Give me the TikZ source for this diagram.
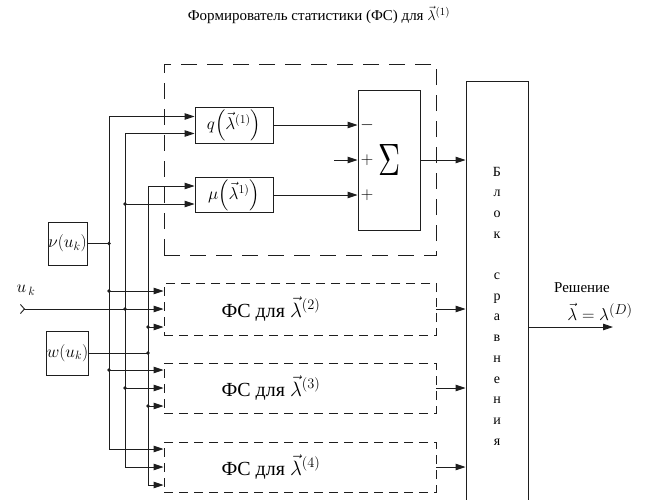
\documentclass[tikz,border=0pt]{standalone}
\usepackage{fontspec}
\setmainfont{Liberation Serif}
\usepackage{amsmath}
\usepackage{graphicx}
\usetikzlibrary{arrows.meta,positioning,calc}
\definecolor{ink}{RGB}{30,30,30}
\tikzset{
  blk/.style={draw=ink,line width=0.9pt,inner sep=1pt,font=\fontsize{17}{17}\selectfont},
  fsframe/.style={draw=ink,line width=0.9pt,dash pattern=on 9pt off 6pt,minimum width=272pt},
  fslabel/.style={font=\fontsize{20}{20}\selectfont},
  bigframe/.style={draw=ink,line width=0.9pt,dash pattern=on 16pt off 10pt},
  flow/.style={-{Triangle[length=10pt,width=6.5pt]},line width=0.9pt,draw=ink},
  wire/.style={line width=0.9pt,draw=ink},
  sign/.style={font=\fontsize{16}{16}\selectfont,inner sep=0pt}
}
\begin{document}
\begin{tikzpicture}[x=1pt,y=-1pt]
\useasboundingbox (0,0) rectangle (645,499);
\node[font=\fontsize{15}{17}\selectfont] (title) at (319,15) {Формирователь статистики (ФС) для $\vec{\lambda}{}^{(1)}$};
\node[bigframe,minimum width=272pt,minimum height=191pt] (fs1) at (300,159.5) {};
\node[blk,minimum width=78pt,minimum height=36pt] (q) at (234,125) {$q\!\left(\vec{\lambda}{}^{(1)}\right)$};
\node[blk,minimum width=78pt,minimum height=35pt] (mu) at (234,195) {$\mu\!\left(\vec{\lambda}{}^{1)}\right)$};
\node[blk,minimum width=62pt,minimum height=140pt] (sum) at (389,160) {};
\node (sigma) at (389,160) {\resizebox{22pt}{31pt}{$\Sigma$}};
\node[sign] (sg1) at (367,125) {$-$};
\node[sign] (sg2) at (367,160) {$+$};
\node[sign] (sg3) at (367,195) {$+$};
\node[blk,minimum width=62pt,minimum height=424pt] (blok) at (497,293) {};
\node[font=\fontsize{14}{20.7}\selectfont,align=center] (blokt) at (497,306) {Б\\л\\о\\к\\ \\с\\р\\а\\в\\н\\е\\н\\и\\я};
\node[fsframe,minimum height=52pt] (fs2) at (300,309) {};
\node[fsframe,minimum height=50pt] (fs3) at (300,388) {};
\node[fsframe,minimum height=50pt] (fs4) at (300,467) {};
\node[fslabel] (fs2t) at (271,309) {ФС для $\vec{\lambda}{}^{(2)}$};
\node[fslabel] (fs3t) at (271,388) {ФС для $\vec{\lambda}{}^{(3)}$};
\node[fslabel] (fs4t) at (271,467) {ФС для $\vec{\lambda}{}^{(4)}$};
\node[blk,minimum width=39pt,minimum height=43pt,inner sep=0pt] (v) at (67.5,243.5) {$\nu\!\left(u_k\right)$};
\node[blk,minimum width=39pt,minimum height=44pt,inner sep=0pt] (w) at (67.5,353) {$w\!\left(u_k\right)$};
\node[font=\fontsize{18}{18}\selectfont] (uklab) at (26,290) {$u_{\,k}$};
\node[font=\fontsize{15}{15}\selectfont] (res) at (582,288) {Решение};
\node[font=\fontsize{19}{19}\selectfont] (reseq) at (600,312) {$\vec{\lambda} = \lambda^{(D)}$};
\coordinate (uk) at (20,309);
\coordinate (b1) at (109,0);
\coordinate (b2) at (125,0);
\coordinate (b3) at (148,0);
\coordinate (sin) at (334,160);
\coordinate (out) at (613,327);
\coordinate (q-a) at ([yshift=8.5pt]q.west);
\coordinate (q-b) at ([yshift=-8.5pt]q.west);
\coordinate (mu-a) at ([yshift=9pt]mu.west);
\coordinate (mu-b) at ([yshift=-9pt]mu.west);
\foreach \f in {fs2,fs3,fs4} {
  \coordinate (\f-a) at ([yshift=18pt]\f.west);
  \coordinate (\f-b) at (\f.west);
  \coordinate (\f-c) at ([yshift=-18pt]\f.west);
}
\draw[wire] (v.east) -- (v.east -| b1);
\draw[flow] (v.east -| b1) |- (q-a);
\draw[flow] (v.east -| b1) |- (fs4-a);
\draw[flow] (fs2-a -| b1) -- (fs2-a);
\draw[flow] (fs3-a -| b1) -- (fs3-a);
\draw[wire,{Straight Barb[reversed,length=4pt,width=9pt]}-{Triangle[length=10pt,width=6.5pt]}] (uk) -- (fs2-b);
\draw[flow] (uk -| b2) |- (q-b);
\draw[flow] (uk -| b2) |- (fs4-b);
\draw[flow] (mu-b -| b2) -- (mu-b);
\draw[flow] (fs3-b -| b2) -- (fs3-b);
\draw[wire] (w.east) -- (w.east -| b3);
\draw[flow] (w.east -| b3) |- (mu-a);
\draw[flow] (w.east -| b3) |- (fs4-c);
\draw[flow] (fs2-c -| b3) -- (fs2-c);
\draw[flow] (fs3-c -| b3) -- (fs3-c);
\draw[flow] (q.east) -- (q.east -| sum.west);
\draw[flow] (sin) -- (sin -| sum.west);
\draw[flow] (mu.east) -- (mu.east -| sum.west);
\draw[flow] (sum.east) -- (sum.east -| blok.west);
\draw[flow] (fs2.east) -- (fs2.east -| blok.west);
\draw[flow] (fs3.east) -- (fs3.east -| blok.west);
\draw[flow] (fs4.east) -- (fs4.east -| blok.west);
\draw[flow] (out -| blok.east) -- (out);
\foreach \p/\b in {v.east/b1, fs2-a/b1, fs3-a/b1, uk/b2, mu-b/b2, fs3-b/b2, w.east/b3, fs2-c/b3, fs3-c/b3}
  \fill[ink] (\p -| \b) circle (1.8pt);
\end{tikzpicture}
\end{document}
